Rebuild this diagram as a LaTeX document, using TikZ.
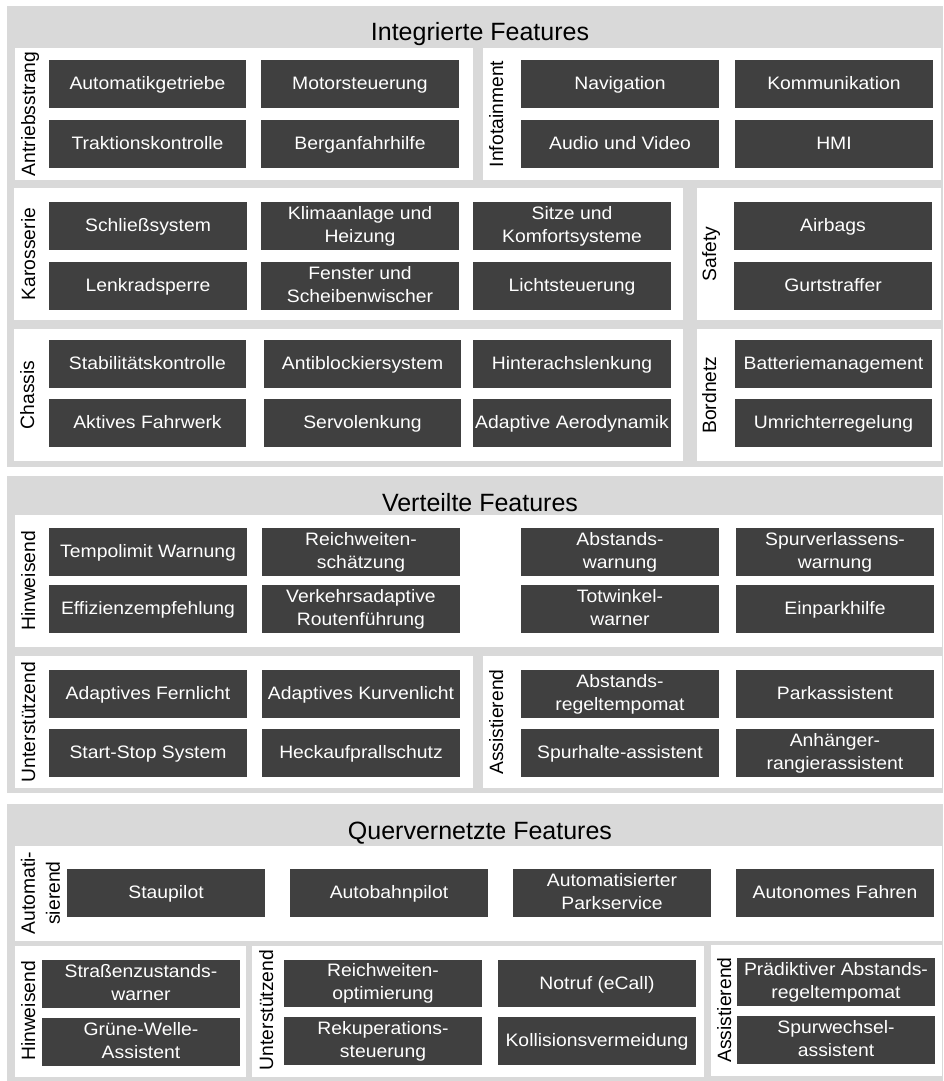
\documentclass[tikz,border=0pt]{standalone}
\usepackage{fontspec}
\setmainfont{Liberation Sans}
\newfontfamily\featfont{Liberation Sans}[FakeStretch=1.075]
\definecolor{panelgray}{HTML}{D9D9D9}
\definecolor{featdark}{HTML}{404040}
% invisible rule giving every box line the same height and depth
\newcommand{\featstrut}{\rule[-4pt]{0pt}{19pt}}
\tikzset{
  panel/.style={fill=panelgray, draw=none, inner sep=0pt},
  group/.style={fill=white, draw=none, inner sep=0pt},
  feat/.style={fill=featdark, draw=none, inner sep=0pt, text=white, align=center,
    font=\featfont\fontsize{18}{23}\selectfont,
    execute at begin node=\featstrut, execute at end node=\featstrut},
  heading/.style={anchor=base, inner sep=0pt, font=\fontsize{25}{29}\selectfont},
  grouplabel/.style={rotate=90, anchor=base, inner sep=0pt, align=center,
    font=\fontsize{19.3}{25}\selectfont}
}
% \rbox{style}{name}{x1}{y1}{x2}{y2}{text}: rectangle node spanning the given corners
\newcommand{\rbox}[7]{%
  \node[#1, minimum width={(#5)-(#3)}, minimum height={(#6)-(#4)}] (#2)
    at ({((#3)+(#5))/2},{-((#4)+(#6))/2}) {#7};}
\begin{document}
\begin{tikzpicture}[x=1pt,y=1pt]
\useasboundingbox (0,0) rectangle (944,-1081);

% ---------------- Integrierte Features ----------------
\rbox{panel}{pInt}{7}{6}{943}{467}{}
\node[heading] (tInt) at (480,-41) {Integrierte Features};
\rbox{group}{gAnt}{15}{48}{473}{180}{}
\rbox{group}{gInfo}{483}{48}{941}{180}{}
\rbox{group}{gKaro}{14}{188}{683}{320}{}
\rbox{group}{gSafe}{697}{188}{941}{320}{}
\rbox{group}{gChas}{14}{329}{683}{461}{}
\rbox{group}{gBord}{697}{329}{941}{461}{}

\node[grouplabel] (lAnt) at (35,-114) {Antriebsstrang};
\node[grouplabel] (lInfo) at (503,-114) {Infotainment};
\node[grouplabel] (lKaro) at (35,-254) {Karosserie};
\node[grouplabel] (lSafe) at (716,-254) {Safety};
\node[grouplabel] (lChas) at (34,-395) {Chassis};
\node[grouplabel] (lBord) at (716,-395) {Bordnetz};

\rbox{feat}{a1}{49}{60}{246}{108}{Automatikgetriebe}
\rbox{feat}{a2}{261}{60}{459}{108}{Motorsteuerung}
\rbox{feat}{a3}{49}{120}{246}{168}{Traktionskontrolle}
\rbox{feat}{a4}{261}{120}{459}{168}{Berganfahrhilfe}
\rbox{feat}{i1}{521}{60}{719}{108}{Navigation}
\rbox{feat}{i2}{735}{60}{933}{108}{Kommunikation}
\rbox{feat}{i3}{521}{120}{719}{168}{Audio und Video}
\rbox{feat}{i4}{735}{120}{933}{168}{HMI}
\rbox{feat}{k1}{49}{202}{247}{250}{Schließsystem}
\rbox{feat}{k2}{261}{202}{459}{250}{Klimaanlage und\\Heizung}
\rbox{feat}{k3}{473}{202}{671}{250}{Sitze und\\Komfortsysteme}
\rbox{feat}{k4}{49}{262}{247}{310}{Lenkradsperre}
\rbox{feat}{k5}{261}{262}{459}{310}{Fenster und\\Scheibenwischer}
\rbox{feat}{k6}{473}{262}{671}{310}{Lichtsteuerung}
\rbox{feat}{s1}{734}{202}{932}{250}{Airbags}
\rbox{feat}{s2}{734}{262}{932}{310}{Gurtstraffer}
\rbox{feat}{c1}{49}{340}{246}{388}{Stabilitätskontrolle}
\rbox{feat}{c2}{264}{340}{461}{388}{Antiblockiersystem}
\rbox{feat}{c3}{473}{340}{671}{388}{Hinterachslenkung}
\rbox{feat}{c4}{49}{399}{246}{447}{Aktives Fahrwerk}
\rbox{feat}{c5}{264}{399}{461}{447}{Servolenkung}
\rbox{feat}{c6}{473}{399}{671}{447}{Adaptive Aerodynamik}
\rbox{feat}{b1}{735}{340}{932}{388}{Batteriemanagement}
\rbox{feat}{b2}{735}{399}{932}{447}{Umrichterregelung}

% ---------------- Verteilte Features ----------------
\rbox{panel}{pVer}{7}{476}{943}{793}{}
\node[heading] (tVer) at (480,-511) {Verteilte Features};
\rbox{group}{gHin}{15}{515}{942}{647}{}
\rbox{group}{gUnt}{15}{656}{473}{788}{}
\rbox{group}{gAss}{483}{656}{942}{788}{}

\node[grouplabel] (lHin) at (35,-581) {Hinweisend};
\node[grouplabel] (lUnt) at (35,-722) {Unterstützend};
\node[grouplabel] (lAss) at (503,-722) {Assistierend};

\rbox{feat}{v1}{49}{528}{247}{576}{Tempolimit Warnung}
\rbox{feat}{v2}{262}{528}{460}{576}{Reichweiten-\\schätzung}
\rbox{feat}{v3}{521}{528}{719}{576}{Abstands-\\warnung}
\rbox{feat}{v4}{736}{528}{934}{576}{Spurverlassens-\\warnung}
\rbox{feat}{v5}{49}{585}{247}{633}{Effizienzempfehlung}
\rbox{feat}{v6}{262}{585}{460}{633}{Verkehrsadaptive\\Routenführung}
\rbox{feat}{v7}{521}{585}{719}{633}{Totwinkel-\\warner}
\rbox{feat}{v8}{736}{585}{934}{633}{Einparkhilfe}
\rbox{feat}{u1}{49}{670}{247}{718}{Adaptives Fernlicht}
\rbox{feat}{u2}{262}{670}{460}{718}{Adaptives Kurvenlicht}
\rbox{feat}{u3}{49}{729}{247}{777}{Start-Stop System}
\rbox{feat}{u4}{262}{729}{460}{777}{Heckaufprallschutz}
\rbox{feat}{r1}{521}{670}{719}{718}{Abstands-\\regeltempomat}
\rbox{feat}{r2}{736}{670}{934}{718}{Parkassistent}
\rbox{feat}{r3}{521}{729}{719}{777}{Spurhalte-assistent}
\rbox{feat}{r4}{736}{729}{934}{777}{Anhänger-\\rangierassistent}

% ---------------- Quervernetzte Features ----------------
\rbox{panel}{pQuer}{7}{804}{943}{1081}{}
\node[heading] (tQuer) at (480,-839) {Quervernetzte Features};
\rbox{group}{gAuto}{15}{846}{942}{941}{}
\rbox{group}{gHin3}{15}{946}{246}{1077}{}
\rbox{group}{gUnt3}{252}{946}{704}{1077}{}
\rbox{group}{gAss3}{711}{945}{942}{1076}{}

\node[grouplabel, anchor=center] (lAuto) at (40.6,-893) {Automati-\\sierend};
\node[grouplabel] (lHin3) at (35,-1011) {Hinweisend};
\node[grouplabel] (lUnt3) at (273,-1010) {Unterstützend};
\node[grouplabel] (lAss3) at (731,-1010) {Assistierend};

\rbox{feat}{q1}{67}{869}{265}{917}{Staupilot}
\rbox{feat}{q2}{290}{869}{488}{917}{Autobahnpilot}
\rbox{feat}{q3}{513}{869}{711}{917}{Automatisierter\\Parkservice}
\rbox{feat}{q4}{736}{869}{934}{917}{Autonomes Fahren}
\rbox{feat}{h1}{42}{960}{240}{1008}{Straßenzustands-\\warner}
\rbox{feat}{h2}{42}{1018}{240}{1066}{Grüne-Welle-\\Assistent}
\rbox{feat}{n1}{284}{960}{482}{1007}{Reichweiten-\\optimierung}
\rbox{feat}{n2}{498}{960}{696}{1007}{Notruf (eCall)}
\rbox{feat}{n3}{284}{1017}{482}{1065}{Rekuperations-\\steuerung}
\rbox{feat}{n4}{498}{1017}{696}{1065}{Kollisionsvermeidung}
\rbox{feat}{p1}{737}{958}{935}{1006}{Prädiktiver Abstands-\\regeltempomat}
\rbox{feat}{p2}{737}{1016}{935}{1064}{Spurwechsel-\\assistent}
\end{tikzpicture}
\end{document}
